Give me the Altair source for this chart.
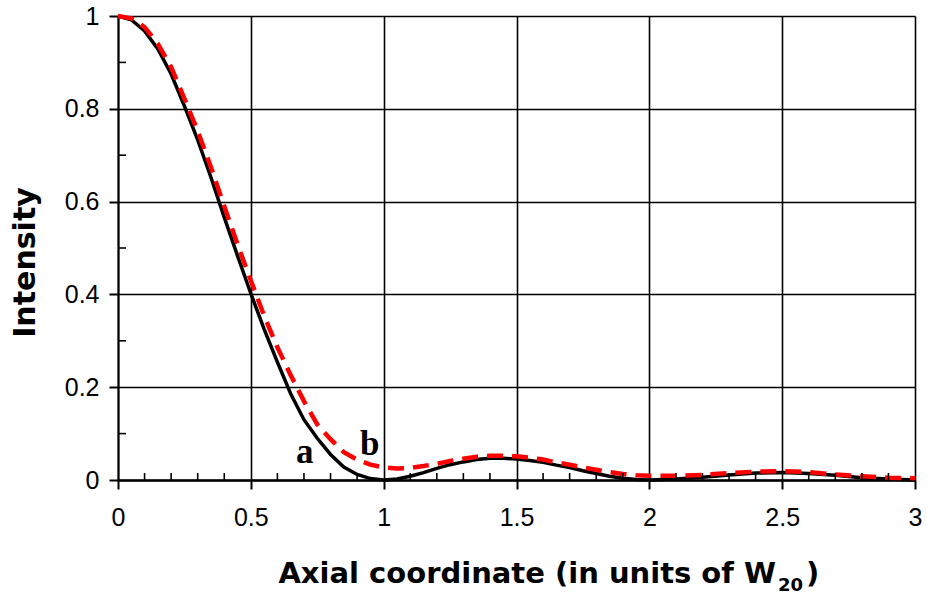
import altair as alt
import pandas as pd

# Axial intensity profiles (curve a: solid black, curve b: dashed red)
x_a = [0.0, 0.05, 0.1, 0.15, 0.2, 0.25, 0.3, 0.35, 0.4, 0.45, 0.5, 0.55, 0.6, 0.65,
       0.7, 0.75, 0.8, 0.85, 0.9, 0.95, 1.0, 1.05, 1.1, 1.15, 1.2, 1.25, 1.3, 1.35,
       1.4, 1.45, 1.5, 1.55, 1.6, 1.65, 1.7, 1.75, 1.8, 1.85, 1.9, 1.95, 2.0, 2.1,
       2.2, 2.3, 2.4, 2.5, 2.6, 2.7, 2.8, 2.9, 3.0]
i_a = [1.0, 0.992, 0.968, 0.929, 0.875, 0.806, 0.733, 0.652, 0.566, 0.483, 0.402,
       0.325, 0.254, 0.186, 0.13, 0.09, 0.055, 0.028, 0.012, 0.003, 0.0, 0.002,
       0.008, 0.016, 0.025, 0.033, 0.039, 0.044, 0.047, 0.047, 0.045, 0.042,
       0.038, 0.032, 0.027, 0.02, 0.014, 0.008, 0.004, 0.001, 0.0, 0.002, 0.006,
       0.011, 0.015, 0.016, 0.014, 0.01, 0.005, 0.002, 0.0]

x_b = x_a
i_b = [1.0, 0.995, 0.976, 0.94, 0.89, 0.822, 0.752, 0.674, 0.59, 0.508, 0.43,
       0.354, 0.286, 0.226, 0.17, 0.12, 0.088, 0.06, 0.044, 0.033, 0.027, 0.025,
       0.026, 0.03, 0.035, 0.041, 0.046, 0.05, 0.052, 0.052, 0.051, 0.048,
       0.044, 0.038, 0.033, 0.027, 0.022, 0.017, 0.013, 0.01, 0.009, 0.009,
       0.011, 0.015, 0.018, 0.019, 0.017, 0.012, 0.008, 0.005, 0.004]

# Curve labels
label_text = ["a", "b"]
label_x = [0.703, 0.948]
label_y = [0.037, 0.054]

# Tick values
x_major = [0, 0.5, 1, 1.5, 2, 2.5, 3]
y_major = [0, 0.2, 0.4, 0.6, 0.8, 1]
x_minor = [0.1, 0.2, 0.3, 0.4, 0.6, 0.7, 0.8, 0.9, 1.1, 1.2, 1.3, 1.4, 1.6, 1.7,
           1.8, 1.9, 2.1, 2.2, 2.3, 2.4, 2.6, 2.7, 2.8, 2.9]
y_minor = [0.1, 0.3, 0.5, 0.7, 0.9]

W, H = 797, 464

xs = alt.Scale(domain=[0, 3], nice=False, zero=False)
ys = alt.Scale(domain=[0, 1], nice=False, zero=False)

x_axis = alt.Axis(values=x_major, format="~g", grid=True, gridColor="black",
                  gridWidth=1.6, gridOpacity=1, domainColor="black", domainWidth=2.5,
                  tickColor="black", tickWidth=2, tickSize=9, labelFont="Liberation Sans",
                  labelFontSize=25, labelColor="black", labelPadding=16,
                  labelFlush=False, labelOverlap=False, title=None)
y_axis = alt.Axis(values=y_major, format="~g", grid=True, gridColor="black",
                  gridWidth=1.6, gridOpacity=1, domainColor="black", domainWidth=2,
                  tickColor="black", tickWidth=2, tickSize=9, labelFont="Liberation Sans",
                  labelFontSize=25, labelColor="black", labelPadding=10,
                  labelFlush=False, labelOverlap=False,
                  title="Intensity", titleFont="DejaVu Sans", titleFontSize=30,
                  titleFontWeight="bold", titleColor="black", titleX=-93, titleY=246,
                  titleAlign="center", titleBaseline="middle", titleAngle=270)

df_a = pd.DataFrame({"x": x_a, "i": i_a})
df_b = pd.DataFrame({"x": x_b, "i": i_b})

line_a = alt.Chart(df_a).mark_line(color="black", strokeWidth=3.5).encode(
    x=alt.X("x:Q", scale=xs, axis=x_axis),
    y=alt.Y("i:Q", scale=ys, axis=y_axis),
    order="x:Q",
)
line_b = alt.Chart(df_b).mark_line(color="#ff0000", strokeWidth=4.5,
                                   strokeDash=[16, 9]).encode(
    x=alt.X("x:Q", scale=xs),
    y=alt.Y("i:Q", scale=ys),
    order="x:Q",
)

minor_x = alt.Chart(pd.DataFrame({"m": x_minor})).mark_rule(
    color="black", strokeWidth=1.6).encode(
    x=alt.X("m:Q", scale=xs), y=alt.value(H), y2=alt.value(H - 7))
minor_y = alt.Chart(pd.DataFrame({"m": y_minor})).mark_rule(
    color="black", strokeWidth=1.6).encode(
    y=alt.Y("m:Q", scale=ys), x=alt.value(0), x2=alt.value(8))

labels = alt.Chart(pd.DataFrame({"t": label_text, "x": label_x, "y": label_y})).mark_text(
    font="Liberation Serif", fontWeight="bold", fontSize=35, color="black",
    align="center", baseline="alphabetic").encode(
    x=alt.X("x:Q", scale=xs), y=alt.Y("y:Q", scale=ys), text="t:N")

# x-axis title with a subscript
title_main = alt.Chart(pd.DataFrame({"t": ["Axial coordinate (in units of W"]})).mark_text(
    font="DejaVu Sans", fontWeight="bold", fontSize=29, color="black",
    align="right", baseline="alphabetic").encode(
    text="t:N", x=alt.value(658), y=alt.value(567))
title_sub = alt.Chart(pd.DataFrame({"t": ["20"]})).mark_text(
    font="DejaVu Sans", fontWeight="bold", fontSize=18, color="black",
    align="left", baseline="alphabetic").encode(
    text="t:N", x=alt.value(660), y=alt.value(575))
title_end = alt.Chart(pd.DataFrame({"t": [")"]})).mark_text(
    font="DejaVu Sans", fontWeight="bold", fontSize=29, color="black",
    align="left", baseline="alphabetic").encode(
    text="t:N", x=alt.value(688), y=alt.value(567))

chart = alt.layer(
    line_a, line_b, minor_x, minor_y, labels, title_main, title_sub, title_end
).properties(
    width=W, height=H,
    autosize=alt.AutoSizeParams(type="none"),
    padding={"left": 118, "top": 16, "right": 12, "bottom": 116},
).configure_view(stroke=None).configure(background="white")

chart.save("out.html", embed_options={"renderer": "svg", "actions": False})
